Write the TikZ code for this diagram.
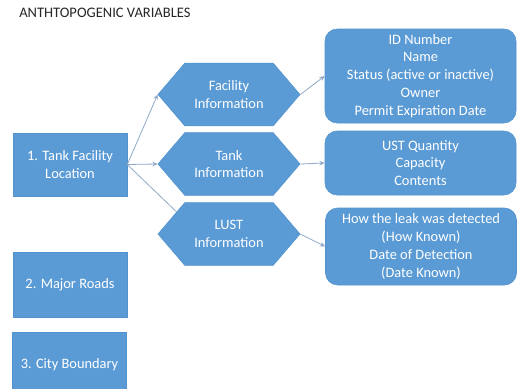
\documentclass[tikz,border=0pt]{standalone}
\usepackage{fontspec}
\setmainfont{Carlito}
\usetikzlibrary{arrows.meta}
\usetikzlibrary{shapes.symbols}
\usetikzlibrary{calc}
\definecolor{boxblue}{HTML}{5B9BD5}
\definecolor{edgeblue}{HTML}{5393CD}
\definecolor{linkblue}{HTML}{8FA9C8}
\definecolor{titlegray}{HTML}{262626}
\newcommand{\boxfont}{\fontsize{10.8}{13.4}\selectfont}
\tikzset{
    varbox/.style={rectangle,fill=boxblue,draw=edgeblue,line width=0.4pt,
        text=white,align=center,font=\boxfont,
        minimum width=85.5pt,minimum height=48pt},
    infohex/.style={signal,signal to=east and west,signal pointer angle=99,
        fill=boxblue,draw=edgeblue,line width=0.4pt,text=white,align=center,
        font=\boxfont,inner sep=0pt,minimum width=106.5pt,minimum height=47pt},
    attrbox/.style={rectangle,rounded corners=9pt,fill=boxblue,draw=edgeblue,
        line width=0.4pt,text=white,align=center,font=\boxfont,
        minimum width=143.25pt},
    link/.style={draw=linkblue,line width=0.6pt,-{Stealth[length=4pt,width=3.5pt]}}
}

\begin{document}
\begin{tikzpicture}[x=0.75pt,y=-0.75pt]
    \useasboundingbox (0,0) rectangle (518,389);
    \clip (0,0) rectangle (518,389);

    \node[anchor=west,inner sep=0pt,text=titlegray,font=\fontsize{10.9}{12}\selectfont]
        (title) at (19,13) {ANTHTOPOGENIC VARIABLES};

    \node[varbox,minimum height=47.25pt] (location) at (70,164.5) {1. Tank Facility\\Location};
    \node[varbox,minimum height=48.75pt] (roads) at (70,284.5) {2. Major Roads};
    \node[varbox,minimum height=48.75pt] (city) at (69.5,364.5) {3. City Boundary};

    \node[infohex] (facility) at (229,94.5) {Facility\\Information};
    \node[infohex] (tank) at (229,164) {Tank\\Information};
    \node[infohex] (lust) at (229,234) {LUST\\Information};

    \node[attrbox,minimum height=70.5pt] (ident) at (420.5,76)
        {ID Number\\Name\\Status (active or inactive)\\Owner\\Permit Expiration Date};
    \node[attrbox,minimum height=48pt] (quantity) at (420.5,163)
        {UST Quantity\\Capacity\\Contents};
    \node[attrbox,minimum height=57.75pt] (leak) at (421,246.5)
        {How the leak was detected\\(How Known)\\Date of Detection\\(Date Known)};

    \draw[link] (location.east) -- (facility.west);
    \draw[link] (location.east) -- (tank.west);
    \draw[draw=linkblue,line width=0.6pt] (location.east) -- ($(lust.west)+(19,-22)$);

    \draw[link] (facility.east) -- (ident.west);
    \draw[link] (tank.east) -- (quantity.west);
    \draw[link] (lust.east) -- (leak.west);
\end{tikzpicture}
\end{document}
